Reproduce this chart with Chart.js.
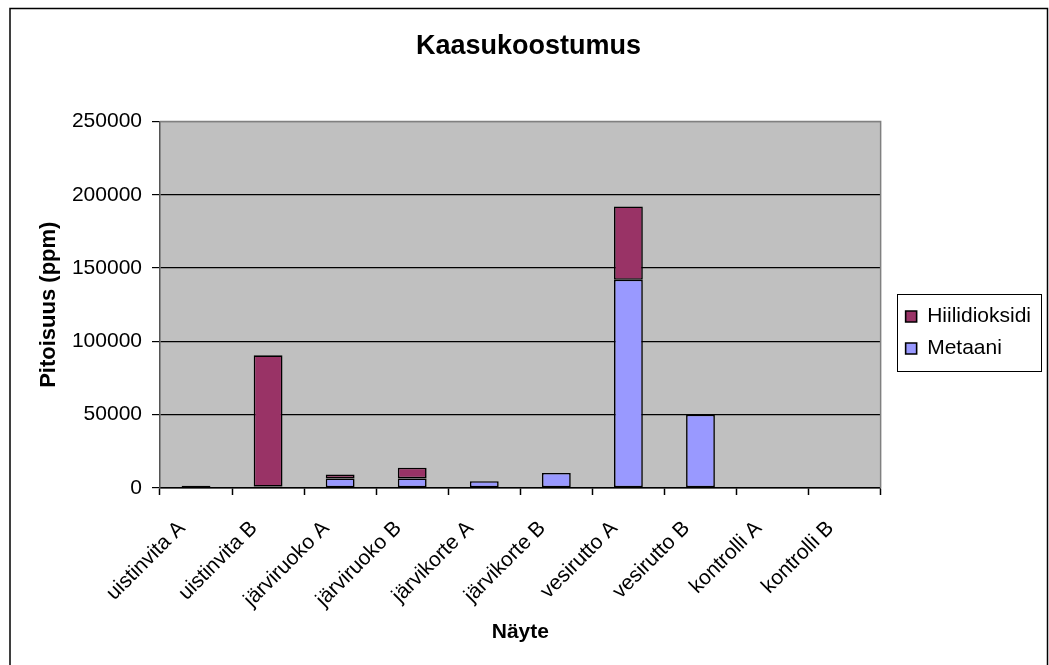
<!DOCTYPE html>
<html>
<head>
<meta charset="utf-8">
<script src="https://cdn.jsdelivr.net/npm/chart.js@4/dist/chart.umd.min.js"></script>
<style>
  html, body { margin: 0; padding: 0; background: #fff; }
  canvas { display: block; }
</style>
</head>
<body>
<canvas id="gasChart" width="1049" height="665"></canvas>
<script>
// ===================
// Data
// ===================
const samples = [
  "uistinvita A", "uistinvita B", "järviruoko A", "järviruoko B", "järvikorte A",
  "järvikorte B", "vesirutto A", "vesirutto B", "kontrolli A", "kontrolli B"
];
const metaani = [500, 1000, 6500, 6500, 4600, 10300, 142000, 50000, 0, 0];
const hiilidioksidi = [1000, 89500, 2700, 7300, 0, 0, 50000, 0, 0, 0];
const yTicks = [0, 50000, 100000, 150000, 200000, 250000];

const FONT = "'Liberation Sans', Arial, sans-serif";
Chart.defaults.font.family = FONT;
Chart.defaults.color = "#000";

// plot background, plot frame, legend frame and outer frame
const frames = {
  id: "frames",
  afterLayout(chart) {
    // title sits a bit right of the canvas centre in the original
    if (chart.titleBlock) chart.titleBlock.left += 30;
    // legend hugs the right edge, away from the plot
    chart.legend.left += 14;
    chart.legend.right += 14;
  },
  beforeDraw(chart) {
    const ctx = chart.ctx;
    const a = chart.chartArea;
    ctx.save();
    ctx.fillStyle = "#fff";
    ctx.fillRect(0, 0, chart.width, chart.height);
    ctx.fillStyle = "#c0c0c0";
    ctx.fillRect(a.left, a.top, a.right - a.left, a.bottom - a.top);
    ctx.restore();
  },
  beforeDatasetsDraw(chart) {
    const ctx = chart.ctx;
    const a = chart.chartArea;
    ctx.save();
    ctx.strokeStyle = "#808080";
    ctx.lineWidth = 1.5;
    ctx.beginPath();
    ctx.moveTo(a.left, a.top);
    ctx.lineTo(a.right, a.top);
    ctx.lineTo(a.right, a.bottom);
    ctx.stroke();
    ctx.restore();
  },
  afterDraw(chart) {
    const ctx = chart.ctx;
    ctx.save();
    ctx.strokeStyle = "#000";
    ctx.lineWidth = 1.5;
    ctx.strokeRect(10, 8.5, 1037.5, 700);
    const boxes = chart.legend.legendHitBoxes;
    if (boxes && boxes.length) {
      let l = Infinity, t = Infinity, r = -Infinity, b = -Infinity;
      boxes.forEach(h => {
        l = Math.min(l, h.left); t = Math.min(t, h.top);
        r = Math.max(r, h.left + h.width); b = Math.max(b, h.top + h.height);
      });
      ctx.lineWidth = 1;
      ctx.strokeStyle = "#000";
      ctx.strokeRect(Math.round(l - 9) + 0.5, Math.round(t - 12) + 0.5,
                     Math.round(r - l + 19), Math.round(b - t + 24));
    }
    ctx.restore();
  }
};

new Chart(document.getElementById("gasChart"), {
  type: "bar",
  data: {
    labels: samples,
    datasets: [
      {
        label: "Metaani",
        data: metaani,
        backgroundColor: "#9999ff",
        borderColor: "#000",
        borderWidth: 1.6,
        borderSkipped: false,
        barPercentage: 0.4,
        categoryPercentage: 1.0,
      },
      {
        label: "Hiilidioksidi",
        data: hiilidioksidi,
        backgroundColor: "#993366",
        borderColor: "#000",
        borderWidth: 1.6,
        borderSkipped: false,
        barPercentage: 0.4,
        categoryPercentage: 1.0,
      },
    ],
  },
  options: {
    responsive: false,
    animation: false,
    devicePixelRatio: 1,
    layout: { padding: { left: 0, right: 22, top: 0, bottom: 0 } },
    plugins: {
      title: {
        display: true,
        text: "Kaasukoostumus",
        font: { size: 27, weight: "bold" },
        color: "#000",
        padding: { top: 30, bottom: 59 },
      },
      legend: {
        position: "right",
        reverse: true,
        labels: {
          boxWidth: 11,
          boxHeight: 11,
          padding: 11,
          font: { size: 21 },
          color: "#000",
        },
      },
      tooltip: { enabled: false },
    },
    scales: {
      x: {
        stacked: true,
        afterFit(scale) { scale.height = 177; },
        grid: {
          display: true,
          drawOnChartArea: false,
          drawTicks: true,
          tickLength: 7,
          tickColor: "#000",
          tickWidth: 1.5,
        },
        border: { display: true, color: "#000", width: 1.5 },
        ticks: {
          minRotation: 45,
          maxRotation: 45,
          autoSkip: false,
          font: { size: 21 },
          color: "#000",
          padding: 21,
          labelOffset: -14,
        },
        title: {
          display: true,
          text: "Näyte",
          font: { size: 21, weight: "bold" },
          color: "#000",
          padding: { top: 0, bottom: 20 },
        },
      },
      y: {
        stacked: true,
        min: 0,
        max: 250000,
        afterFit(scale) { scale.width = 160; },
        afterBuildTicks(scale) { scale.ticks = yTicks.map(v => ({ value: v })); },
        grid: {
          color: ctx => (ctx.tick && ctx.tick.value === 250000 ? "#808080" : "#000"),
          lineWidth: 1.2,
          tickLength: 8,
          tickColor: "#000",
          tickWidth: 1.2,
        },
        border: { display: true, color: "#555", width: 1.5 },
        ticks: {
          font: { size: 21 },
          color: "#000",
          padding: 10,
          callback: v => String(v),
        },
        title: {
          display: true,
          text: "Pitoisuus (ppm)",
          font: { size: 22, weight: "bold" },
          color: "#000",
          padding: { top: 36, bottom: 0 },
        },
      },
    },
  },
  plugins: [frames],
});
</script>
</body>
</html>
